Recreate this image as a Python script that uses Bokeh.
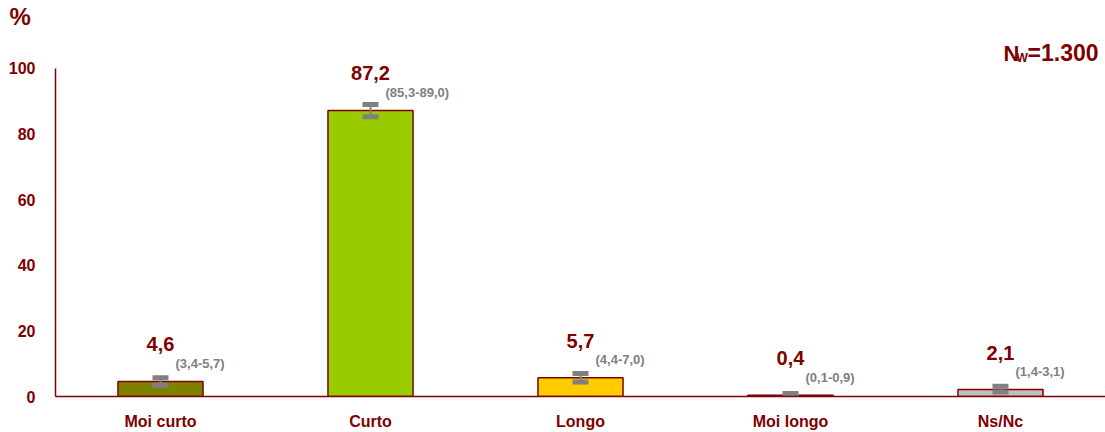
from bokeh.plotting import figure
from bokeh.models import Range1d, FixedTicker, ColumnDataSource, Label
from bokeh.core.properties import value
from bokeh.embed import file_html
from bokeh.resources import INLINE

categories = ["Moi curto", "Curto", "Longo", "Moi longo", "Ns/Nc"]
values = [4.6, 87.2, 5.7, 0.4, 2.1]
ci_low = [3.4, 85.3, 4.4, 0.1, 1.4]
ci_high = [5.7, 89.0, 7.0, 0.9, 3.1]
bar_colors = ["#808000", "#99CC00", "#FFCC00", "#800000", "#C0C0C0"]
y_ticks = [0, 20, 40, 60, 80, 100]
n_label = "N"
n_sub = "W"
n_value = "=1.300"

DARK = "#800000"
GRAY = "#808080"
FONT = "Liberation Sans"

xs = list(range(len(categories)))
fmt = lambda v: f"{v:.1f}".replace(".", ",")
src = ColumnDataSource(dict(
    x=xs, top=values, lo=ci_low, hi=ci_high, color=bar_colors,
    vlab=[fmt(v) for v in values],
    cilab=[f"({fmt(a)}-{fmt(b)})" for a, b in zip(ci_low, ci_high)],
))

TITLE_H = 29
Y_END = (397 - TITLE_H) / 3.29

p = figure(width=1105, height=432, output_backend="svg", toolbar_location=None,
           x_range=Range1d(-0.5, 4.5), y_range=Range1d(0, Y_END),
           min_border_left=55, min_border_right=0, min_border_top=0,
           min_border_bottom=35)
p.outline_line_color = None
p.xgrid.visible = False
p.ygrid.visible = False
p.background_fill_color = "white"

p.title.text = "%"
p.title.align = "left"
p.title.offset = -46
p.title.standoff = 0
p.title.text_font = FONT
p.title.text_font_style = "bold"
p.title.text_font_size = "24px"
p.title.text_color = DARK

p.vbar(x="x", top="top", width=0.405, bottom=0, source=src, fill_color="color",
       line_color=DARK, line_width=1.5)
p.segment(x0="x", y0="lo", x1="x", y1="hi", source=src, line_color=GRAY, line_width=2)
p.rect(x="x", y="lo", width=16, height=5, width_units="screen", height_units="screen",
       source=src, fill_color=GRAY, line_color=None)
p.rect(x="x", y="hi", width=16, height=5, width_units="screen", height_units="screen",
       source=src, fill_color=GRAY, line_color=None)

p.text(x="x", y="top", text="vlab", source=src, y_offset=-37, text_align="center",
       text_baseline="middle", text_font=value(FONT), text_font_style="bold",
       text_font_size="20px", text_color=DARK)
p.text(x="x", y="top", text="cilab", source=src, x_offset=15, y_offset=-18,
       text_align="left", text_baseline="middle", text_font=value(FONT),
       text_font_style="bold", text_font_size="13px", text_color=GRAY)

# axes
p.yaxis.ticker = FixedTicker(ticks=y_ticks)
p.yaxis.bounds = (0, 100)
p.yaxis.axis_line_color = DARK
p.yaxis.axis_line_width = 1.5
p.yaxis.major_tick_line_color = None
p.yaxis.minor_tick_line_color = None
p.yaxis.major_tick_out = 0
p.yaxis.major_tick_in = 0
p.yaxis.major_label_standoff = 20
p.yaxis.major_label_text_font = FONT
p.yaxis.major_label_text_font_style = "bold"
p.yaxis.major_label_text_font_size = "16px"
p.yaxis.major_label_text_color = DARK

p.xaxis.ticker = FixedTicker(ticks=xs)
p.xaxis.major_label_overrides = {i: c for i, c in zip(xs, categories)}
p.xaxis.axis_line_color = DARK
p.xaxis.axis_line_width = 1.5
p.xaxis.major_tick_line_color = None
p.xaxis.minor_tick_line_color = None
p.xaxis.major_tick_out = 0
p.xaxis.major_tick_in = 0
p.xaxis.major_label_standoff = 16
p.xaxis.major_label_text_font = FONT
p.xaxis.major_label_text_font_style = "bold"
p.xaxis.major_label_text_font_size = "16px"
p.xaxis.major_label_text_color = DARK

def xd(px):
    return -0.5 + (px - 55) / 210.0

def yd(py):
    return (397 - py) / 3.29

p.add_layout(Label(x=xd(1019), y=yd(53), text=n_label, text_font=FONT, text_font_style="bold",
                   text_font_size="22px", text_color=DARK, text_baseline="middle",
                   text_align="right"))
p.add_layout(Label(x=xd(1016), y=yd(58), text=n_sub, text_font=FONT, text_font_style="bold",
                   text_font_size="12px", text_color=DARK, text_baseline="middle",
                   text_align="left"))
p.add_layout(Label(x=xd(1098), y=yd(53), text=n_value, text_font=FONT, text_font_style="bold",
                   text_font_size="23px", text_color=DARK, text_baseline="middle",
                   text_align="right"))

open("out.html", "w").write(file_html(p, INLINE))
